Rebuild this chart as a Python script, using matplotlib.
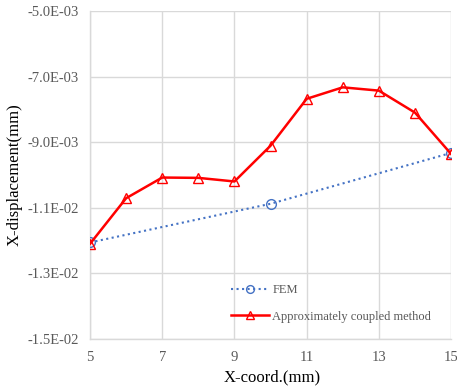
import matplotlib
matplotlib.use("Agg")
import matplotlib.pyplot as plt
from matplotlib.ticker import FuncFormatter, FixedLocator

x_fem = [5, 10, 15]
y_fem = [-1.206e-2, -1.088e-2, -9.33e-3]

x_acm = [5, 6, 7, 8, 9, 10, 11, 12, 13, 14, 15]
y_acm = [-1.210e-2, -1.071e-2, -1.008e-2, -1.009e-2, -1.020e-2, -9.11e-3,
         -7.68e-3, -7.33e-3, -7.43e-3, -8.10e-3, -9.36e-3]

xticks = [5, 7, 9, 11, 13, 15]
yticks = [-5e-3, -7e-3, -9e-3, -1.1e-2, -1.3e-2, -1.5e-2]

plt.rcParams['font.family'] = ['Liberation Serif', 'DejaVu Serif']

fig = plt.figure(figsize=(4.57, 3.90), dpi=100)
ax = fig.add_axes([0.197, 0.131, 0.790, 0.841])

ax.plot(x_fem, y_fem, linestyle=':', color='#4472C4', linewidth=1.5,
        marker='o', markersize=7, markerfacecolor='none',
        markeredgecolor='#4472C4', markeredgewidth=1.0, label='FEM', zorder=3)
ax.plot(x_acm, y_acm, linestyle='-', color='#FF0000', linewidth=1.8,
        marker='^', markersize=7, markerfacecolor='none',
        markeredgecolor='#FF0000', markeredgewidth=1.0,
        label='Approximately coupled method', zorder=4)

ax.set_xlim(5, 15)
ax.set_ylim(-1.5e-2, -5e-3)
ax.xaxis.set_major_locator(FixedLocator(xticks))
ax.yaxis.set_major_locator(FixedLocator(yticks))

def yfmt(v, pos):
    return f"{v:.1E}"
ax.yaxis.set_major_formatter(FuncFormatter(yfmt))

ax.grid(True, color='#D9D9D9', linewidth=1.0)
ax.set_axisbelow(True)
for side in ['top', 'right']:
    ax.spines[side].set_visible(False)
for side in ['left', 'bottom']:
    ax.spines[side].set_color('#D9D9D9')
    ax.spines[side].set_linewidth(1.0)

ax.tick_params(axis='both', length=0, labelsize=10.5, labelcolor='#595959')
ax.tick_params(axis='x', pad=9)
ax.tick_params(axis='y', pad=8)

ax.set_xlabel('X-coord.(mm)', fontsize=12, color='#000000')
ax.set_ylabel('X-displacement(mm)', fontsize=12, color='#000000')
ax.xaxis.set_label_coords(0.504, -0.116)
ax.yaxis.set_label_coords(-0.208, 0.5)
ax.xaxis.label.set_va('center')
ax.yaxis.label.set_va('center')

leg = ax.legend(loc='center left', bbox_to_anchor=(0.36, 0.108), frameon=False,
                fontsize=9, labelcolor='#595959', handlelength=3.0,
                handletextpad=0.3, labelspacing=1.15, markerscale=0.8)

fig.savefig('out.png', dpi=100)
